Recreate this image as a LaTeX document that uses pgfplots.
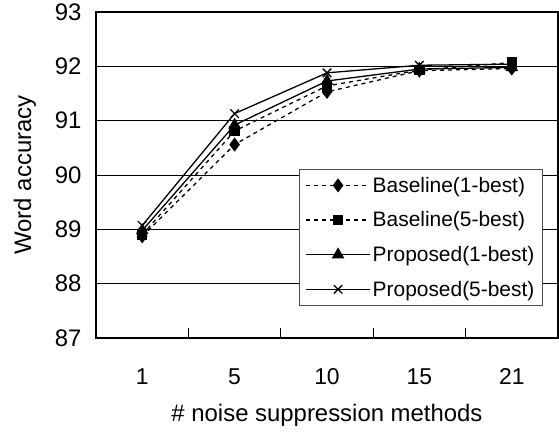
\documentclass[border=0pt]{standalone}
\usepackage{fontspec}
\setmainfont{Liberation Sans}
\usepackage{pgfplots}
\pgfplotsset{compat=1.18}
\begin{document}
\begin{tikzpicture}
\begin{axis}[
  at={(96bp,98bp)}, anchor=south west,
  scale only axis, width=462bp, height=326bp,
  xmin=-0.5, xmax=4.5, ymin=87, ymax=93,
  xtick={0,...,4}, xticklabels={1,5,10,15,21},
  minor xtick={0.5,1.5,2.5,3.5},
  ytick={87,...,93},
  tick pos=left, tick align=inside,
  major tick length=0pt, minor tick length=10bp,
  minor tick style={black, line width=0.8bp},
  ymajorgrids, grid style={black, line width=0.8bp},
  axis line style={black, line width=1.2bp},
  /pgf/number format/assume math mode=true,
  yticklabel style={font=\fontsize{24}{24}\selectfont, xshift=-11bp},
  xticklabel style={font=\fontsize{23}{23}\selectfont, yshift=-27bp},
  xlabel={\# noise suppression methods},
  ylabel={Word accuracy},
  xlabel style={font=\fontsize{24}{24}\selectfont, at={(axis description cs:0.5,-0.236)}, anchor=center},
  ylabel style={font=\fontsize{24}{24}\selectfont, at={(axis description cs:-0.154,0.5)}, anchor=center},
  legend cell align=left,
  legend style={at={(0.967,0.098)}, anchor=south east, draw=black!70, line width=0.8bp,
    font=\fontsize{21}{21}\selectfont, row sep=14bp, inner xsep=6bp, inner ysep=6bp},
  legend image code/.code={%
    \draw[mark repeat=2,mark phase=2] plot coordinates {(0bp,0bp) (32bp,0bp) (64bp,0bp)};},
  every axis plot/.append style={black, line width=1.3bp},
]
\addplot[dash pattern=on 4bp off 4bp, mark=diamond*, mark size=6bp, mark options={solid}]
  coordinates {(0,88.87) (1,90.56) (2,91.53) (3,91.92) (4,91.96)};
\addplot[dash pattern=on 4bp off 4bp, mark=square*, mark size=4.5bp, mark options={solid}]
  coordinates {(0,88.90) (1,90.81) (2,91.64) (3,91.93) (4,92.07)};
\addplot[mark=triangle*, mark size=6bp]
  coordinates {(0,88.98) (1,90.92) (2,91.73) (3,91.95) (4,91.98)};
\addplot[mark=x, mark size=6bp]
  coordinates {(0,89.07) (1,91.13) (2,91.88) (3,92.02) (4,92.04)};
\legend{Baseline(1-best), Baseline(5-best), Proposed(1-best), Proposed(5-best)}
\end{axis}
\pgfresetboundingbox
\path (0,0) rectangle (559bp,436bp);
\end{tikzpicture}
\end{document}
